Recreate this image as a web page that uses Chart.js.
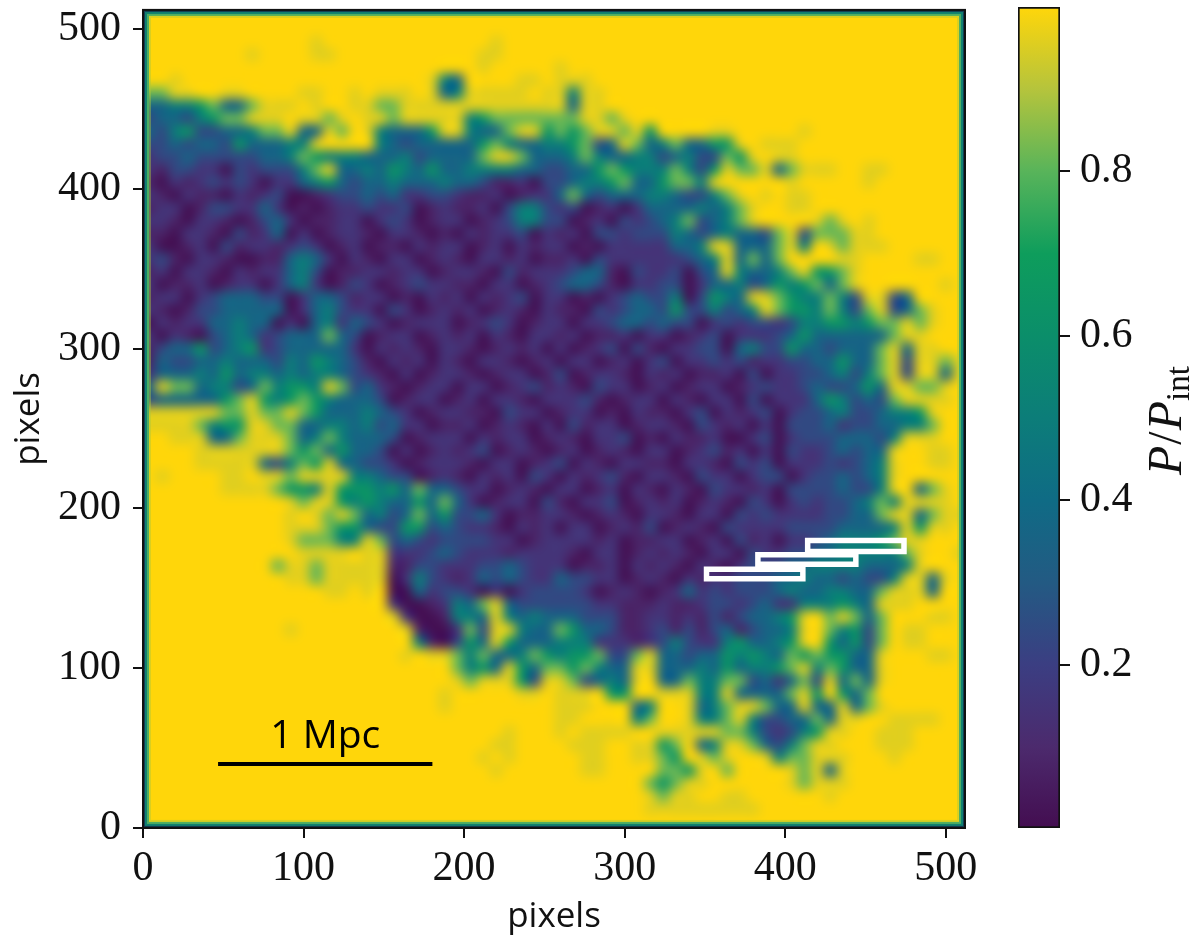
<!DOCTYPE html>
<html lang="en">
<head>
<meta charset="UTF-8">
<title>P/Pint map</title>
<style>
    body { margin: 0; background: #fff; }
    #wrap { position: relative; width: 1200px; height: 946px; }
    canvas { position: absolute; left: 0; top: 0; }
</style>
</head>
<body>
<div id="wrap">
    <canvas id="mapChart" width="1200" height="946"></canvas>
    <canvas id="barChart" width="1200" height="946"></canvas>
</div>
<script src="https://cdn.jsdelivr.net/npm/chart.js"></script>
<script>
// P/Pint, one digit per 8x8 pixel cell, top row first
const mapRows = [
"99999999 99999999 99999999 99999999 99999999 99999999 99999999 99999999",
"99999999 99999999 99999999 99999999 99999999 99999999 99999999 99999999",
"99999999 99999899 99999999 99989999 99999999 99999999 99999999 99999999",
"99999999 89999889 99999999 99889999 99999999 99999999 99999999 99999999",
"99999999 99999999 99999999 99899999 89999999 99999999 99999999 99999999",
"99899999 99999999 99999985 49999889 88899999 99999999 99999999 99999999",
"77889988 99998899 89888984 58888898 85889999 99999999 99999999 99999999",
"44556744 78889899 88778888 88888888 84889999 99999999 99999999 99999999",
"34435677 88898878 98878888 85677777 77887899 99999999 99999999 99999999",
"43563344 57784487 98544468 85447886 76788786 99998899 99989999 99999999",
"33434436 44455899 99543444 44675445 56734874 57446689 88899999 99999999",
"23343333 34457655 54445344 44788744 45754455 34533768 98899999 99999999",
"21332203 23335784 45465464 45555443 34467655 57536877 84788899 88999999",
"10212323 20224564 34454445 44311203 34556744 67758999 99899999 89999999",
"21021102 12300123 34342233 21120122 47434445 54335789 89889999 99999999",
"12201332 24201012 23223012 11203553 23012024 44454578 99889999 99999999",
"22102210 13420112 20232012 20123553 30120323 45734578 99998789 89999999",
"11022103 12402012 21022101 02122302 12033233 35434544 37837778 89999999",
"20012031 22123201 20110212 20120212 20102222 24458844 47859878 88999999",
"23102210 01145420 21022012 10221201 12032222 22345847 47999988 99998899",
"12022102 12245301 12212201 22103122 23441032 23034854 45786678 99999999",
"20112012 20245201 32012322 11022012 34431022 33024453 46567478 99999989",
"12202344 43302443 12201021 20212302 20102343 35036548 87655753 88349999",
"21013344 44402453 22032012 12012102 11032344 36335345 87665753 78347899",
"02122445 44020452 43201222 01232012 20223443 43302323 32355665 67787899",
"20210345 42344474 30122012 12021022 12011202 20123022 23464444 44788999",
"13446345 62344444 20212102 21012120 20123031 02233045 33644344 47848899",
"14334454 44354654 31021202 10221012 02201202 30223231 22334464 47838878",
"24445464 55454554 32102012 21012201 30122102 12011203 02233453 57838848",
"48774553 47566587 34210122 02201231 21032201 20122012 32234334 64887789",
"34444467 86567654 44301220 12022102 22310122 02102203 02224653 43788889",
"88888877 87787644 45432012 21103220 12201021 10230212 30233453 34556899",
"88887566 88774455 45342201 12012102 03122012 21032120 20333423 34455799",
"99888447 88874575 44430122 20212201 21022301 02112002 30233344 43588899",
"99998888 88876746 44302012 12301210 12012102 20123120 20322343 44899889",
"99998888 84357684 43320122 21022012 30210221 10221032 30222323 45899889",
"98999988 98878888 55433012 10212032 02123102 21032202 33023343 45899999",
"99999988 88766586 66564744 32201210 22012021 02103221 20333343 35894789",
"99999999 99987886 56544647 42012203 10223012 12012103 20232334 57588889",
"99999999 99989878 74534746 33420112 21012102 21022032 32222334 47884788",
"99999999 99988876 64336634 32210212 02201213 01210322 22333344 44586889",
"99999999 99987775 58734323 33322012 22212011 22012031 20223455 56788999",
"99999999 99998888 98822234 32221222 21022012 12102203 22334455 55578998",
"99999999 99788788 88811332 22334322 20112021 21021023 33445555 44458999",
"99999999 99988788 88802532 12434322 43322012 10212233 34454434 33588489",
"99999999 99999988 98900423 32020233 33201210 12423233 34544554 47888499",
"99999999 99999999 99920012 54784333 33322111 21123323 42255565 48889999",
"99999999 99999999 99982001 55485454 44333112 21213134 45689787 47999889",
"99999999 99989999 99998100 27388544 76443112 31313413 44589756 37988999",
"99999999 99999999 99999510 36486444 55522212 35322564 45689646 37988999",
"99999999 99999999 99998988 75744576 56673378 44344656 54767664 48999889",
"99999999 99999999 99999999 75648647 76754488 44454645 56785764 48999999",
"99999999 99999999 99999999 87888638 87345489 44755773 42473847 48999999",
"99999999 99999999 99999998 99999889 88896699 88855844 44786964 79999999",
"99999999 99999999 99999998 99999999 88899945 99845788 74484484 78999999",
"99999999 99999999 99999999 99999999 88999957 99855785 33447488 99888899",
"99999999 99999999 99999999 99998999 89888899 88888775 32356889 98889999",
"99999999 99999999 99999999 99988999 98889988 67945887 43578899 98889999",
"99999999 99999999 99999999 99898999 99889988 76987899 85778889 99899999",
"99999999 99999999 99999999 99989999 99889999 77689799 99878489 99999999",
"99999999 99999999 99999999 99999999 99999997 67889999 99878889 99999999",
"99999999 99999999 99999999 99999999 99999998 78899889 99999899 99999999",
"99999999 99999999 99999999 99999999 99999998 88888888 99999999 99999999",
"99999999 99999999 99999999 99999999 99999999 99999999 99999999 99999999"
];
// what each digit in mapRows stands for
const digitLevels = [0.01, 0.08, 0.15, 0.24, 0.36, 0.5, 0.64, 0.82, 0.96, 1];

const xTickValues = [0, 100, 200, 300, 400, 500];
const yTickValues = [0, 100, 200, 300, 400, 500];
const barTickValues = [0.2, 0.4, 0.6, 0.8];

// white slit boxes, in map pixels
const box1X = [351, 411, 411, 351, 351];
const box1Y = [156, 156, 162, 162, 156];
const box2X = [383, 444, 444, 383, 383];
const box2Y = [165, 165, 171, 171, 165];
const box3X = [414, 474, 474, 414, 414];
const box3Y = [173, 173, 180, 180, 173];

// scale bar
const barLineX = [48, 179];
const barLineY = [40, 40];
const barLabel = '1 Mpc';

// colour map
const cmapStops = [0, 0.1, 0.2, 0.3, 0.4, 0.5, 0.6, 0.7, 0.8, 0.9, 1];
const cmapColors = ['#430d50', '#4c2a6d', '#3b3e82', '#235a83', '#0f6b85', '#0c7d79', '#0b8e6a', '#0e9d5c', '#58b45a', '#b5c43c', '#ffd60a'];

const cellSize = 8;
const mapMax = 512;
const serif = '"Liberation Serif", serif';
const sans = '"Open Sans", sans-serif';
const tickSize = 42;

function hexToRgb(h) {
    return [1, 3, 5].map(i => parseInt(h.substr(i, 2), 16));
}

function colorFor(v) {
    let i = 0;
    while (i < cmapStops.length - 2 && v > cmapStops[i + 1]) i++;
    const t = (v - cmapStops[i]) / (cmapStops[i + 1] - cmapStops[i]);
    const a = hexToRgb(cmapColors[i]), b = hexToRgb(cmapColors[i + 1]);
    return 'rgb(' + a.map((c, k) => Math.round(c + (b[k] - c) * t)).join(',') + ')';
}

const cells = [];
mapRows.forEach((row, i) => {
    row.replace(/ /g, '').split('').forEach((d, j) => {
        cells.push({ x: (j + 0.5) * cellSize, y: mapMax - (i + 0.5) * cellSize, v: digitLevels[Number(d)] });
    });
});

function outline(xs, ys, color, width) {
    return {
        type: 'scatter', showLine: true, data: xs.map((x, i) => ({ x: x, y: ys[i] })), borderColor: color, borderWidth: width,
        pointRadius: 0, borderCapStyle: 'square', borderJoinStyle: 'miter', order: 1
    };
}

function noPadding(s) {
    s.paddingTop = 0; s.paddingBottom = 0; s.paddingLeft = 0; s.paddingRight = 0;
}

// the cells are drawn by the scatter controller, then resampled like an imshow with bicubic interpolation
const smoothMap = {
    id: 'smoothMap',
    afterDatasetDraw(chart, args) {
        if (args.index !== 3) return;
        const a = chart.chartArea, c = chart.ctx;
        const w = Math.round(a.right - a.left), h = Math.round(a.bottom - a.top);
        const n = mapRows.length;
        const off = document.createElement('canvas');
        off.width = n; off.height = n;
        const oc = off.getContext('2d');
        oc.imageSmoothingEnabled = false;
        oc.drawImage(chart.canvas, a.left, a.top, w, h, 0, 0, n, n);
        c.save();
        c.beginPath();
        c.rect(a.left, a.top, w, h);
        c.clip();
        c.imageSmoothingEnabled = true;
        c.imageSmoothingQuality = 'high';
        c.filter = 'blur(3px)';
        c.drawImage(off, a.left, a.top, w, h);
        c.filter = 'none';
        // thin dark-to-green rim along the image edge
        [['rgba(170,200,60,0.45)', 8], ['#4fae62', 6], ['#10806f', 4], ['#123c55', 2]].forEach(s => {
            c.strokeStyle = s[0];
            c.lineWidth = s[1];
            c.strokeRect(a.left + s[1] / 2, a.top + s[1] / 2, w - s[1], h - s[1]);
        });
        c.restore();
        c.strokeStyle = '#111';
        c.lineWidth = 2;
        c.strokeRect(a.left, a.top, w, h);
    },
    afterDraw(chart) {
        const c = chart.ctx;
        c.save();
        c.fillStyle = '#000';
        c.font = '39px ' + sans;
        c.textAlign = 'center';
        c.textBaseline = 'alphabetic';
        c.fillText(barLabel, chart.scales.x.getPixelForValue((barLineX[0] + barLineX[1]) / 2), chart.scales.y.getPixelForValue(50));
        c.restore();
    }
};

new Chart(document.getElementById('mapChart'), {
    type: 'scatter',
    data: {
        datasets: [
            outline(barLineX, barLineY, '#000', 4),
            outline(box1X, box1Y, '#fff', 5.5),
            outline(box2X, box2Y, '#fff', 5.5),
            {
                data: cells,
                pointStyle: 'rect',
                pointRadius: 9.9,
                pointBorderWidth: 0,
                borderWidth: 0,
                backgroundColor: cells.map(p => colorFor(p.v)),
                order: 2
            },
            outline(box3X, box3Y, '#fff', 5.5)
        ]
    },
    plugins: [smoothMap],
    options: {
        responsive: false,
        animation: false,
        events: [],
        layout: { padding: { left: 0, top: 7, right: 235, bottom: 0 } },
        plugins: { legend: { display: false }, tooltip: { enabled: false } },
        scales: {
            x: {
                type: 'linear', min: 0, max: mapMax,
                afterFit: s => { s.height = 118; noPadding(s); },
                afterBuildTicks: s => { s.ticks = xTickValues.map(v => ({ value: v })); },
                border: { color: '#111', width: 2 },
                grid: { drawOnChartArea: false, color: '#111', tickLength: 10, lineWidth: 2 },
                ticks: { color: '#111', font: { family: serif, size: tickSize }, padding: 6, maxRotation: 0 },
                title: { display: true, text: 'pixels', color: '#111', font: { family: sans, size: 35 }, padding: { top: 0, bottom: 8 } }
            },
            y: {
                type: 'linear', min: 0, max: mapMax,
                afterFit: s => { s.width = 143; noPadding(s); },
                afterBuildTicks: s => { s.ticks = yTickValues.map(v => ({ value: v })); },
                border: { color: '#111', width: 2 },
                grid: { drawOnChartArea: false, color: '#111', tickLength: 10, lineWidth: 2 },
                ticks: { color: '#111', font: { family: serif, size: tickSize }, padding: 12 },
                title: { display: true, text: 'pixels', color: '#111', font: { family: sans, size: 35 }, padding: { top: 8, bottom: 0 } }
            }
        }
    }
});

const barLabelPlugin = {
    id: 'barLabelPlugin',
    afterDraw(chart) {
        const c = chart.ctx;
        c.save();
        c.translate(1181, 475);
        c.rotate(-Math.PI / 2);
        c.fillStyle = '#111';
        c.textBaseline = 'alphabetic';
        c.font = 'italic 48px ' + serif;
        c.fillText('P', 0, 0);
        let x = c.measureText('P').width + 1;
        c.font = '48px ' + serif;
        c.fillText('/', x, 0);
        x += c.measureText('/').width + 1;
        c.font = 'italic 48px ' + serif;
        c.fillText('P', x, 0);
        x += c.measureText('P').width;
        c.font = '33px ' + serif;
        c.fillText('int', x, 8);
        c.restore();
    }
};

new Chart(document.getElementById('barChart'), {
    type: 'bar',
    data: {
        labels: [''],
        datasets: [{
            data: [[0.0016, 1]],
            barPercentage: 1,
            categoryPercentage: 1,
            borderColor: '#111',
            borderWidth: 2,
            borderSkipped: false,
            backgroundColor(ctx) {
                const a = ctx.chart.chartArea;
                if (!a) return cmapColors[0];
                const s = ctx.chart.scales.y;
                const g = ctx.chart.ctx.createLinearGradient(0, s.getPixelForValue(0), 0, s.getPixelForValue(1));
                cmapStops.forEach((v, i) => g.addColorStop(v, cmapColors[i]));
                return g;
            }
        }]
    },
    plugins: [barLabelPlugin],
    options: {
        responsive: false,
        animation: false,
        events: [],
        layout: { padding: { left: 1018, top: 7, right: 0, bottom: 118 } },
        plugins: { legend: { display: false }, tooltip: { enabled: false } },
        scales: {
            x: { display: false },
            y: {
                position: 'right', min: 0.0016, max: 1,
                afterFit: s => { s.width = 140; noPadding(s); },
                afterBuildTicks: s => { s.ticks = barTickValues.map(v => ({ value: v })); },
                border: { display: false },
                grid: { drawOnChartArea: false, color: '#111', tickLength: 10, lineWidth: 2 },
                ticks: { color: '#111', font: { family: serif, size: tickSize }, padding: 10, callback: v => v.toFixed(1) }
            }
        }
    }
});
</script>
</body>
</html>
